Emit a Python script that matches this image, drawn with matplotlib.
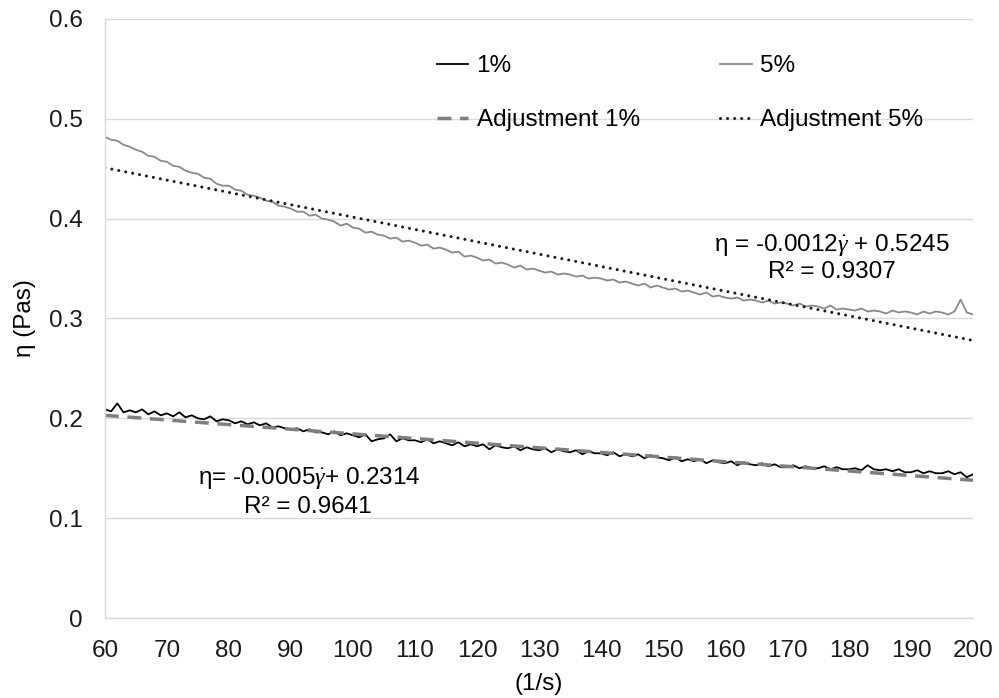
import numpy as np
import matplotlib
matplotlib.use("Agg")
import matplotlib.pyplot as plt

plt.rcParams['font.family'] = ['Liberation Sans', 'DejaVu Sans']
plt.rcParams['mathtext.fontset'] = 'custom'
plt.rcParams['mathtext.rm'] = 'Liberation Sans'
plt.rcParams['mathtext.it'] = 'Liberation Serif:italic'

# shear rate (1/s)
shear = list(range(60, 201))

visc_1 = [
    0.209, 0.207, 0.215, 0.206, 0.208,
    0.206, 0.209, 0.204, 0.207, 0.203,
    0.205, 0.202, 0.206, 0.201, 0.203,
    0.200, 0.199, 0.202, 0.197, 0.199,
    0.198, 0.195, 0.197, 0.194, 0.196,
    0.193, 0.195, 0.191, 0.192, 0.190,
    0.189, 0.190, 0.187, 0.189, 0.186,
    0.186, 0.184, 0.187, 0.183, 0.185,
    0.183, 0.181, 0.184, 0.177, 0.179,
    0.180, 0.184, 0.177, 0.180, 0.178,
    0.178, 0.176, 0.179, 0.175, 0.177,
    0.175, 0.173, 0.176, 0.172, 0.174,
    0.172, 0.174, 0.169, 0.173, 0.171,
    0.170, 0.172, 0.168, 0.171, 0.169,
    0.168, 0.170, 0.166, 0.169, 0.167,
    0.166, 0.168, 0.164, 0.167, 0.165,
    0.165, 0.163, 0.166, 0.162, 0.164,
    0.162, 0.164, 0.160, 0.163, 0.161,
    0.160, 0.158, 0.161, 0.157, 0.159,
    0.157, 0.159, 0.155, 0.158, 0.156,
    0.155, 0.157, 0.153, 0.156, 0.154,
    0.153, 0.155, 0.152, 0.154, 0.151,
    0.151, 0.153, 0.150, 0.152, 0.150,
    0.150, 0.152, 0.149, 0.151, 0.149,
    0.149, 0.150, 0.148, 0.153, 0.149,
    0.148, 0.149, 0.147, 0.149, 0.146,
    0.146, 0.148, 0.145, 0.147, 0.145,
    0.145, 0.147, 0.144, 0.146, 0.141,
    0.144,
]

visc_5 = [
    0.482, 0.479, 0.478, 0.474, 0.472,
    0.469, 0.467, 0.463, 0.462, 0.458,
    0.457, 0.453, 0.452, 0.448, 0.446,
    0.445, 0.441, 0.440, 0.435, 0.433,
    0.433, 0.429, 0.428, 0.424, 0.423,
    0.421, 0.418, 0.417, 0.413, 0.412,
    0.410, 0.407, 0.407, 0.403, 0.404,
    0.400, 0.399, 0.397, 0.393, 0.395,
    0.391, 0.390, 0.386, 0.387, 0.384,
    0.383, 0.380, 0.381, 0.377, 0.378,
    0.376, 0.373, 0.374, 0.370, 0.371,
    0.369, 0.366, 0.367, 0.362, 0.363,
    0.361, 0.358, 0.359, 0.355, 0.356,
    0.354, 0.351, 0.353, 0.349, 0.350,
    0.348, 0.346, 0.347, 0.344, 0.345,
    0.344, 0.342, 0.343, 0.340, 0.341,
    0.340, 0.338, 0.339, 0.336, 0.337,
    0.335, 0.333, 0.335, 0.331, 0.333,
    0.331, 0.329, 0.330, 0.327, 0.328,
    0.326, 0.324, 0.326, 0.322, 0.323,
    0.321, 0.320, 0.321, 0.318, 0.319,
    0.318, 0.316, 0.318, 0.315, 0.316,
    0.315, 0.313, 0.315, 0.312, 0.313,
    0.312, 0.310, 0.313, 0.309, 0.310,
    0.309, 0.308, 0.310, 0.307, 0.308,
    0.307, 0.305, 0.308, 0.306, 0.307,
    0.306, 0.304, 0.307, 0.305, 0.307,
    0.306, 0.304, 0.307, 0.319, 0.306,
    0.304,
]

# trendline endpoints
fit_x = [60, 200]
fit_1 = [0.203, 0.138]
fit_5 = [0.451, 0.278]

labels = ['1%', '5%', 'Adjustment 1%', 'Adjustment 5%']
eq_1 = ['η= -0.0005$\\dot{\\gamma}$+ 0.2314', 'R² = 0.9641']
eq_5 = ['η = -0.0012$\\dot{\\gamma}$ + 0.5245', 'R² = 0.9307']
xticks = list(range(60, 201, 10))
yticks = [0, 0.1, 0.2, 0.3, 0.4, 0.5, 0.6]
ytick_labels = ['0', '0.1', '0.2', '0.3', '0.4', '0.5', '0.6']

FS = 17.5

fig = plt.figure(figsize=(9.99, 6.98), dpi=100)
ax = fig.add_axes([0.105, 0.1146, 0.869, 0.8582])

l1, = ax.plot(shear, visc_1, color='black', lw=1.3, label=labels[0])
l5, = ax.plot(shear, visc_5, color='#898989', lw=1.3, label=labels[1])
a1, = ax.plot(fit_x, fit_1, color='#7f7f7f', lw=2.5, ls=(0, (4, 2.5)), label=labels[2])
a5, = ax.plot(fit_x, fit_5, color='#1a1a1a', lw=2.2, ls=(0, (0.01, 2.3)), label=labels[3])
a5.set_dash_capstyle('round')

ax.set_xlim(60, 200)
ax.set_ylim(0, 0.6)
ax.set_xticks(xticks)
ax.set_yticks(yticks)
ax.set_yticklabels(ytick_labels)
ax.tick_params(length=0, labelsize=FS, colors='#1a1a1a')
ax.tick_params(axis='x', pad=16)
ax.tick_params(axis='y', pad=16)
ax.grid(axis='y', color='#d9d9d9', lw=1)
ax.set_axisbelow(True)
for s in ['top', 'right']:
    ax.spines[s].set_visible(False)
for s in ['left', 'bottom']:
    ax.spines[s].set_color('#d9d9d9')
    ax.spines[s].set_linewidth(1)

ax.set_xlabel('(1/s)', fontsize=FS, labelpad=8)
ax.set_ylabel('η (Pas)', fontsize=FS, labelpad=9)

leg = ax.legend(handles=[l1, a1, l5, a5], ncol=2, frameon=False, fontsize=FS,
                loc='upper left', bbox_to_anchor=(0.368, 0.960),
                handlelength=1.3, handletextpad=0.35, columnspacing=3.3,
                labelspacing=1.32, borderpad=0)

ax.text(177.3, 0.3736, eq_5[0], fontsize=FS, ha='center', va='center')
ax.text(177.3, 0.3466, eq_5[1], fontsize=FS, ha='center', va='center')
ax.text(92.9, 0.140, eq_1[0], fontsize=FS, ha='center', va='center')
ax.text(92.8, 0.111, eq_1[1], fontsize=FS, ha='center', va='center')

fig.savefig('out.png', dpi=100)
